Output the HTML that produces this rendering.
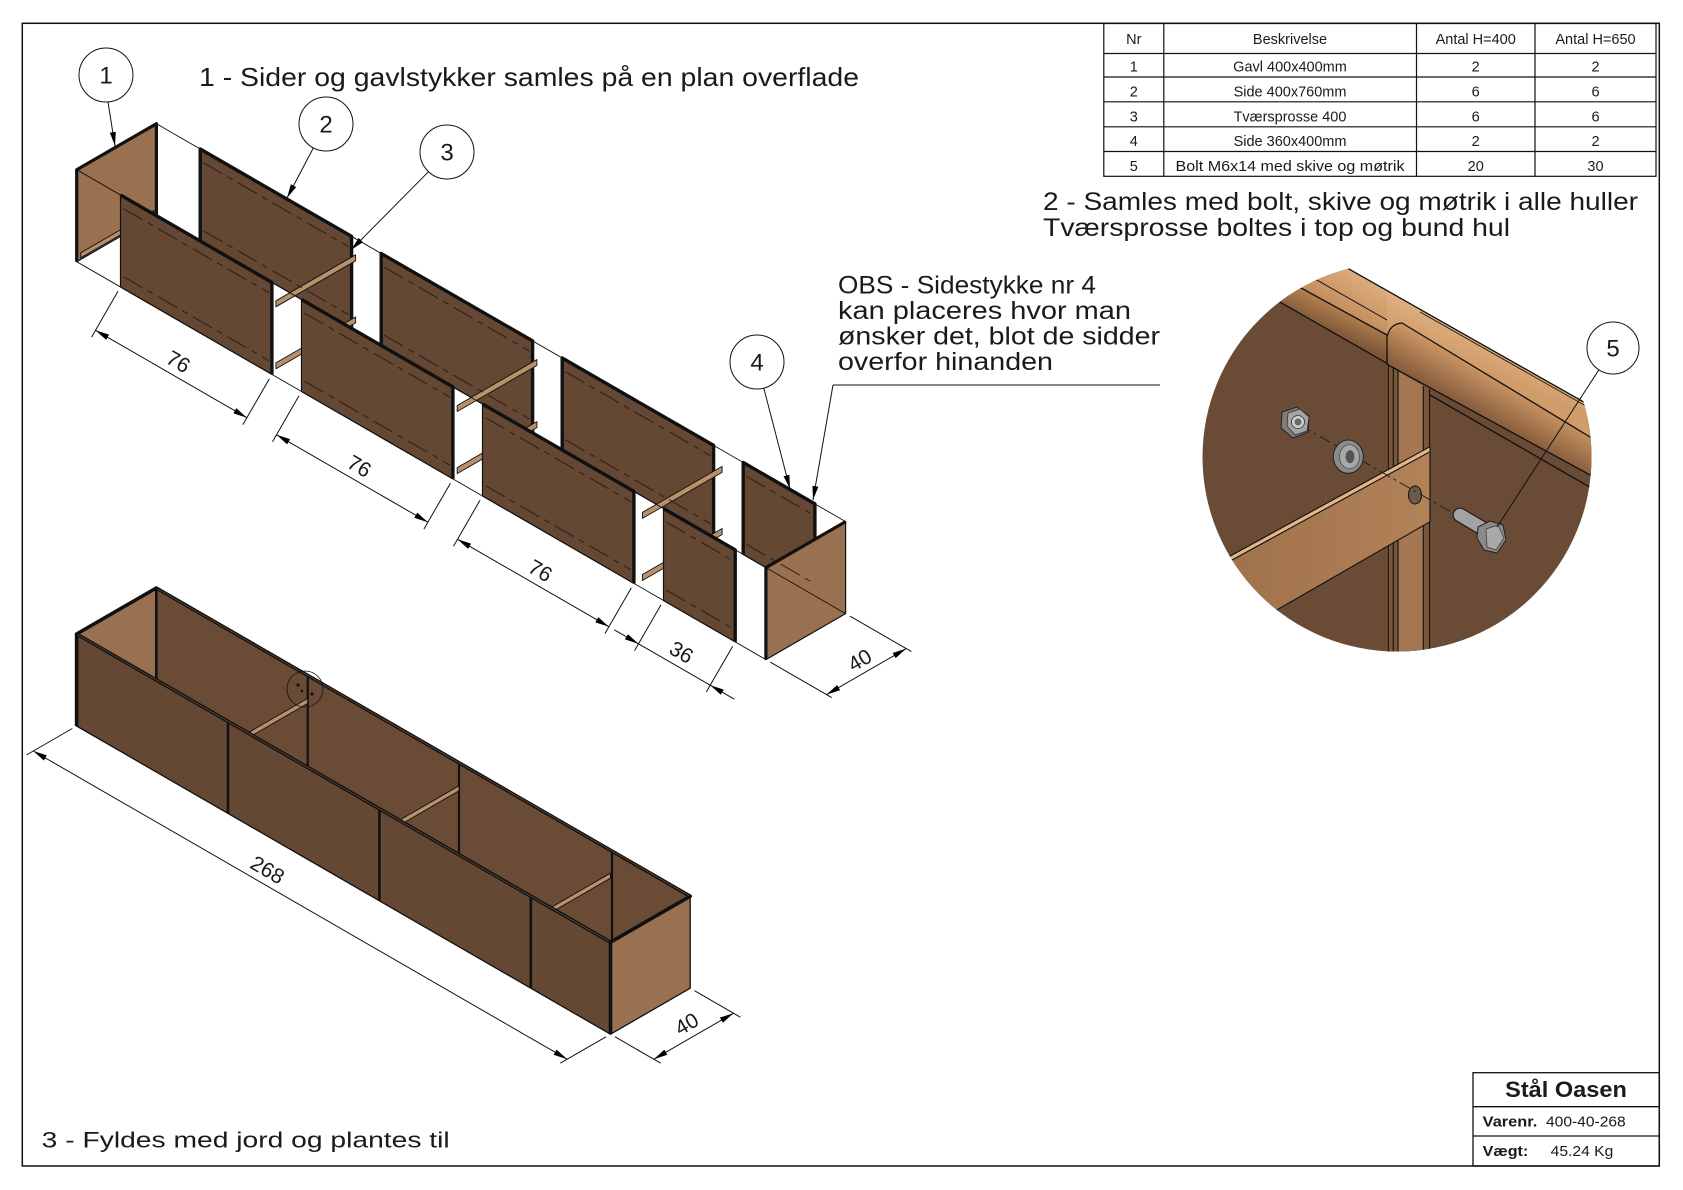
<!DOCTYPE html>
<html><head><meta charset="utf-8"><style>
html,body{margin:0;padding:0;background:#fff;}
svg{display:block;}
text{font-family:"Liberation Sans",Arial,sans-serif;fill:#1a1a1a;}
</style></head><body>
<svg width="1683" height="1190" viewBox="0 0 1683 1190" xmlns="http://www.w3.org/2000/svg">
<defs>
<marker id="ar" viewBox="0 0 14 6" refX="14" refY="3" markerWidth="14" markerHeight="6" markerUnits="userSpaceOnUse" orient="auto-start-reverse"><path d="M0,0 L14,3 L0,6 z" fill="#000"/></marker>
<clipPath id="dc"><circle cx="1397" cy="457" r="194.5"/></clipPath>
<linearGradient id="tanL" gradientUnits="userSpaceOnUse" x1="1320" y1="255" x2="1300" y2="290"><stop offset="0" stop-color="#dcab7b"/><stop offset="1" stop-color="#c28c5c"/></linearGradient>
<linearGradient id="stripL" gradientUnits="userSpaceOnUse" x1="1330" y1="300" x2="1318" y2="326"><stop offset="0" stop-color="#b9834f"/><stop offset="1" stop-color="#7f5839"/></linearGradient>
<linearGradient id="tanR" gradientUnits="userSpaceOnUse" x1="1500" y1="345" x2="1488" y2="372"><stop offset="0" stop-color="#deae7e"/><stop offset="1" stop-color="#d09c6a"/></linearGradient>
<linearGradient id="faceR" gradientUnits="userSpaceOnUse" x1="1450" y1="353" x2="1430" y2="388"><stop offset="0" stop-color="#c99463"/><stop offset="1" stop-color="#855b3c"/></linearGradient>
<linearGradient id="brc" x1="0" y1="0" x2="1" y2="0"><stop offset="0" stop-color="#9c6f48"/><stop offset="1" stop-color="#b28258"/></linearGradient>
</defs>
<rect width="1683" height="1190" fill="#fff"/>
<!-- frame -->
<rect x="22.3" y="23.3" width="1637" height="1142.7" fill="none" stroke="#111" stroke-width="1.5"/>

<!-- table -->
<g stroke="#111" stroke-width="1.2" fill="none">
<rect x="1103.8" y="23.5" width="552.2" height="152.8"/>
<line x1="1163.8" y1="23.5" x2="1163.8" y2="176.3"/>
<line x1="1416.5" y1="23.5" x2="1416.5" y2="176.3"/>
<line x1="1535" y1="23.5" x2="1535" y2="176.3"/>
<line x1="1103.8" y1="53.5" x2="1656" y2="53.5"/>
<line x1="1103.8" y1="77" x2="1656" y2="77"/>
<line x1="1103.8" y1="101.8" x2="1656" y2="101.8"/>
<line x1="1103.8" y1="126.8" x2="1656" y2="126.8"/>
<line x1="1103.8" y1="151.5" x2="1656" y2="151.5"/>
</g>
<g font-size="14.5" text-anchor="middle">
<text x="1133.8" y="44">Nr</text><text x="1290" y="44">Beskrivelse</text><text x="1475.7" y="44">Antal H=400</text><text x="1595.5" y="44">Antal H=650</text>
<text x="1133.8" y="71.5">1</text><text x="1290" y="71.5">Gavl 400x400mm</text><text x="1475.7" y="71.5">2</text><text x="1595.5" y="71.5">2</text>
<text x="1133.8" y="96.3">2</text><text x="1290" y="96.3">Side 400x760mm</text><text x="1475.7" y="96.3">6</text><text x="1595.5" y="96.3">6</text>
<text x="1133.8" y="121.3">3</text><text x="1290" y="121.3">Tværsprosse 400</text><text x="1475.7" y="121.3">6</text><text x="1595.5" y="121.3">6</text>
<text x="1133.8" y="146">4</text><text x="1290" y="146">Side 360x400mm</text><text x="1475.7" y="146">2</text><text x="1595.5" y="146">2</text>
<text x="1133.8" y="170.8">5</text><text x="1290" y="170.8" textLength="229" lengthAdjust="spacingAndGlyphs">Bolt M6x14 med skive og møtrik</text><text x="1475.7" y="170.8">20</text><text x="1595.5" y="170.8">30</text>
</g>

<!-- headings -->
<text x="199" y="86" font-size="26" textLength="660" lengthAdjust="spacingAndGlyphs">1 - Sider og gavlstykker samles på en plan overflade</text>
<text x="1043" y="210" font-size="25" textLength="595" lengthAdjust="spacingAndGlyphs">2 - Samles med bolt, skive og møtrik i alle huller</text>
<text x="1043" y="236" font-size="25" textLength="467" lengthAdjust="spacingAndGlyphs">Tværsprosse boltes i top og bund hul</text>
<g font-size="25">
<text x="838" y="293.3" textLength="258" lengthAdjust="spacingAndGlyphs">OBS - Sidestykke nr 4</text>
<text x="838" y="319" textLength="293" lengthAdjust="spacingAndGlyphs">kan placeres hvor man</text>
<text x="838" y="344.5" textLength="322" lengthAdjust="spacingAndGlyphs">ønsker det, blot de sidder</text>
<text x="838" y="370" textLength="215" lengthAdjust="spacingAndGlyphs">overfor hinanden</text>
</g>
<text x="41.7" y="1147.5" font-size="22" textLength="408" lengthAdjust="spacingAndGlyphs">3 - Fyldes med jord og plantes til</text>

<!-- ============ EXPLODED VIEW ============ -->
<g stroke="#111" stroke-linejoin="round">
<!-- left gable -->
<polygon points="76.7,169.7 156.4,123.7 156.4,215.7 76.7,261.7" fill="#9a7150" stroke-width="1.2"/>
<polyline points="76.7,261.7 76.7,169.7 156.4,123.7 156.4,215.7" fill="none" stroke-width="3.2"/>
<polygon points="80.7,252.8 154,210.5 154,215.5 80.7,257.8" fill="#b8916a" stroke-width="0.9"/>
<!-- back panels -->
<polygon points="200.2,149 351.6,236.4 351.6,328.4 200.2,241" fill="#644833" stroke-width="1.2"/>
<polygon points="381.2,253.5 532.6,340.9 532.6,432.9 381.2,345.5" fill="#644833" stroke-width="1.2"/>
<polygon points="562.2,358 713.6,445.4 713.6,537.4 562.2,450" fill="#644833" stroke-width="1.2"/>
<polygon points="743.2,462.5 814.9,503.9 814.9,595.9 743.2,554.5" fill="#644833" stroke-width="1.2"/>
<g fill="none" stroke-width="3.4">
<polyline points="200.2,241 200.2,149 351.6,236.4 351.6,328.4"/>
<polyline points="381.2,345.5 381.2,253.5 532.6,340.9 532.6,432.9"/>
<polyline points="562.2,450 562.2,358 713.6,445.4 713.6,537.4"/>
<polyline points="743.2,554.5 743.2,462.5 814.9,503.9 814.9,595.9"/>
</g>
<!-- braces -->
<g fill="#b8916a" stroke-width="0.9">
<polygon points="275.9,300.8 355.6,254.8 355.6,260.8 275.9,306.8"/>
<polygon points="457.2,405.5 536.9,359.5 536.9,365.5 457.2,411.5"/>
<polygon points="642.4,512.4 722.1,466.4 722.1,472.4 642.4,518.4"/>
<polygon points="275.9,362.9 355.6,316.9 355.6,322.9 275.9,368.9"/>
<polygon points="457.2,467.6 536.9,421.6 536.9,427.6 457.2,473.6"/>
<polygon points="642.4,574.5 722.1,528.5 722.1,534.5 642.4,580.5"/>
</g>
<!-- front panels -->
<polygon points="120.5,195 271.9,282.4 271.9,374.4 120.5,287" fill="#644833" stroke-width="1.2"/>
<polygon points="301.5,299.5 452.9,386.9 452.9,478.9 301.5,391.5" fill="#644833" stroke-width="1.2"/>
<polygon points="482.5,404 633.9,491.4 633.9,583.4 482.5,496" fill="#644833" stroke-width="1.2"/>
<polygon points="663.5,508.5 735.2,549.9 735.2,641.9 663.5,600.5" fill="#644833" stroke-width="1.2"/>
<g fill="none" stroke-width="3.4">
<polyline points="120.5,195 271.9,282.4 271.9,374.4"/>
<polyline points="301.5,299.5 452.9,386.9 452.9,478.9"/>
<polyline points="482.5,404 633.9,491.4 633.9,583.4"/>
<polyline points="663.5,508.5 735.2,549.9 735.2,641.9"/>
</g>
<!-- right gable -->
<polygon points="765.9,567.6 845.6,521.6 845.6,613.6 765.9,659.6" fill="#9a7150" stroke-width="1.2"/>
<polyline points="765.9,659.6 765.9,567.6 845.6,521.6" fill="none" stroke-width="3.2"/>
</g>
<!-- hidden dashed lines -->
<g stroke="#2b1e15" stroke-width="1" stroke-dasharray="22 6 6 6" fill="none">
<line x1="123.5" y1="208.7" x2="268.9" y2="292.7"/><line x1="123.5" y1="276.7" x2="268.9" y2="360.7"/>
<line x1="304.5" y1="313.2" x2="449.9" y2="397.2"/><line x1="304.5" y1="381.2" x2="449.9" y2="465.2"/>
<line x1="485.5" y1="417.7" x2="630.9" y2="501.7"/><line x1="485.5" y1="485.7" x2="630.9" y2="569.7"/>
<line x1="666.5" y1="522.2" x2="732.2" y2="560.2"/><line x1="666.5" y1="590.2" x2="732.2" y2="628.2"/>
<line x1="203.2" y1="162.7" x2="348.6" y2="246.7"/><line x1="203.2" y1="230.7" x2="348.6" y2="314.7"/>
<line x1="384.2" y1="267.2" x2="529.6" y2="351.2"/><line x1="384.2" y1="335.2" x2="529.6" y2="419.2"/>
<line x1="565.2" y1="371.7" x2="710.6" y2="455.7"/><line x1="565.2" y1="439.7" x2="710.6" y2="523.7"/>
<line x1="746.2" y1="476.2" x2="811.9" y2="514.2"/><line x1="746.2" y1="544.2" x2="811.9" y2="582.2"/>
</g>
<!-- explode lines -->
<g stroke="#111" stroke-width="0.9">
<line x1="156.4" y1="123.7" x2="845.6" y2="521.6"/>
<line x1="76.7" y1="169.7" x2="845.6" y2="613.6"/>
<line x1="76.7" y1="261.7" x2="765.9" y2="659.6"/>
</g>

<!-- exploded dims -->
<g stroke="#111" stroke-width="1">
<line x1="118" y1="291.3" x2="91.5" y2="337.2"/><line x1="269.4" y1="378.7" x2="242.9" y2="424.6"/>
<line x1="95.5" y1="330.3" x2="246.9" y2="417.7" marker-start="url(#ar)" marker-end="url(#ar)"/>
<line x1="299" y1="395.8" x2="272.5" y2="441.7"/><line x1="450.4" y1="483.2" x2="423.9" y2="529.1"/>
<line x1="276.5" y1="434.8" x2="427.9" y2="522.2" marker-start="url(#ar)" marker-end="url(#ar)"/>
<line x1="480" y1="500.3" x2="453.5" y2="546.2"/><line x1="631.4" y1="587.7" x2="604.9" y2="633.6"/>
<line x1="457.5" y1="539.3" x2="608.9" y2="626.7" marker-start="url(#ar)" marker-end="url(#ar)"/>
<line x1="661" y1="604.8" x2="634.5" y2="650.7"/><line x1="732.7" y1="646.2" x2="706.2" y2="692.1"/>
<line x1="614.3" y1="629.8" x2="638.5" y2="643.8" marker-end="url(#ar)"/>
<line x1="734.4" y1="699.2" x2="710.2" y2="685.2" marker-end="url(#ar)"/>
<line x1="638.5" y1="643.8" x2="710.2" y2="685.2"/>
<line x1="770.2" y1="662.1" x2="831.7" y2="697.6"/><line x1="849.9" y1="616.1" x2="911.4" y2="651.6"/>
<line x1="826.5" y1="694.6" x2="906.2" y2="648.6" marker-start="url(#ar)" marker-end="url(#ar)"/>
</g>
<g font-size="21" text-anchor="middle">
<text transform="translate(171.2,374) rotate(30)" y="-7">76</text>
<text transform="translate(352.2,478.5) rotate(30)" y="-7">76</text>
<text transform="translate(533.2,583) rotate(30)" y="-7">76</text>
<text transform="translate(674.4,664.5) rotate(30)" y="-7">36</text>
<text transform="translate(866.4,671.6) rotate(-30)" y="-6">40</text>
</g>

<!-- balloons -->
<g fill="none" stroke="#111" stroke-width="1">
<circle cx="106" cy="75" r="27"/>
<circle cx="326" cy="124" r="27"/>
<circle cx="447" cy="152" r="27"/>
<circle cx="757" cy="362" r="27"/>
<line x1="108" y1="102" x2="115" y2="146" marker-end="url(#ar)"/>
<line x1="313.4" y1="147.9" x2="287" y2="198" marker-end="url(#ar)"/>
<line x1="428.5" y1="171.7" x2="351" y2="250" marker-end="url(#ar)"/>
<line x1="763.8" y1="388.1" x2="790" y2="489" marker-end="url(#ar)"/>
<line x1="833" y1="385" x2="1160" y2="385"/>
<line x1="833" y1="385" x2="813" y2="500" marker-end="url(#ar)"/>
</g>
<g font-size="24" text-anchor="middle">
<text x="106" y="83.5">1</text><text x="326" y="132.5">2</text><text x="447" y="160.5">3</text><text x="757" y="370.5">4</text>
</g>

<!-- ============ ASSEMBLED BOX ============ -->
<g stroke="#111" stroke-linejoin="round">
<polygon points="76.6,634 610.5,942.2 690.2,896.2 156.3,588" fill="#6a4c36" stroke="none"/>
<polygon points="76.6,634 156.3,588 156.3,680" fill="#9a7150" stroke="none"/>
<g stroke-width="2.2">
<line x1="307.7" y1="675.4" x2="307.7" y2="767.4"/>
<line x1="459" y1="762.8" x2="459" y2="854.8"/>
<line x1="612" y1="852" x2="612" y2="942.2"/>
</g>
<g fill="#b8916a" stroke-width="0.9">
<polygon points="307.7,698.4 228,744.4 228,749.4 307.7,703.4"/>
<polygon points="459,785.8 379.4,831.8 379.4,836.8 459,790.8"/>
<polygon points="610.4,873.2 530.8,919.2 530.8,924.2 610.4,878.2"/>
</g>
<polygon points="76.6,726 610.5,1034.2 610.5,942.2 76.6,634" fill="#644833" stroke-width="1.3"/>
<polygon points="610.5,1034.2 690.2,988.2 690.2,896.2 610.5,942.2" fill="#9a7150" stroke-width="1.3"/>
<g stroke-width="3.6" fill="none">
<polygon points="76.6,634 610.5,942.2 690.2,896.2 156.3,588"/>
<line x1="76.6" y1="634" x2="76.6" y2="726"/>
<line x1="610.5" y1="942.2" x2="610.5" y2="1034.2"/>
</g>
<g stroke-width="2.6">
<line x1="156.3" y1="588" x2="156.3" y2="680"/>
<line x1="228" y1="721.4" x2="228" y2="813.4"/>
<line x1="379.4" y1="808.8" x2="379.4" y2="900.8"/>
<line x1="530.8" y1="896.2" x2="530.8" y2="988.2"/>
</g>
<g stroke="#6a4c36" stroke-width="0.8" fill="none">
<line x1="78" y1="634.8" x2="609" y2="941.4"/>
<line x1="157.5" y1="588.8" x2="689" y2="895.4"/>
</g>
</g>
<circle cx="305" cy="689" r="18" fill="none" stroke="#111" stroke-width="0.8"/>
<g fill="#111"><circle cx="298" cy="685" r="1.6"/><circle cx="302" cy="691" r="1.3"/><circle cx="312" cy="694" r="1.6"/></g>

<!-- box dims -->
<g stroke="#111" stroke-width="1">
<line x1="72.3" y1="728.5" x2="26.4" y2="755"/><line x1="606.2" y1="1036.7" x2="560.3" y2="1063.2"/>
<line x1="33.3" y1="751" x2="567.2" y2="1059.2" marker-start="url(#ar)" marker-end="url(#ar)"/>
<line x1="614.8" y1="1036.7" x2="660.7" y2="1063.2"/><line x1="694.5" y1="990.7" x2="740.4" y2="1017.2"/>
<line x1="653.8" y1="1059.2" x2="733.5" y2="1013.2" marker-start="url(#ar)" marker-end="url(#ar)"/>
</g>
<g font-size="21" text-anchor="middle">
<text transform="translate(260.4,882.1) rotate(30)" y="-7">268</text>
<text transform="translate(693.7,1036.2) rotate(-30)" y="-7">40</text>
</g>

<!-- ============ DETAIL CIRCLE ============ -->
<g clip-path="url(#dc)">
<polygon points="1190,179 1600,411.2 1600,670 1190,670" fill="#6a4c36"/>
<!-- left piece of rail -->
<polygon points="1190,179 1387,290.5 1387,335 1190,227.3" fill="url(#tanL)"/>
<polygon points="1190,227.3 1387,335 1387,363.3 1190,250.7" fill="url(#stripL)"/>
<!-- right piece of rail -->
<polygon points="1387,290.5 1600,411.2 1600,443 1400,323.3 1387,335" fill="url(#tanR)"/>
<polygon points="1387,335 1400,323.3 1600,443 1600,480.4 1388.3,365" fill="url(#faceR)"/>
<!-- post -->
<polygon points="1386.7,364 1430,387 1430,660 1386.7,660" fill="#7a5739"/>
<polygon points="1398,371.3 1423.3,385.9 1423.3,660 1398,660" fill="#a47752"/>
<g stroke="#111" stroke-width="1.1">
<line x1="1388.3" y1="364" x2="1388.3" y2="660"/>
<line x1="1393.3" y1="367" x2="1393.3" y2="660"/>
<line x1="1398" y1="371" x2="1398" y2="660"/>
<line x1="1423.3" y1="386" x2="1423.3" y2="660"/>
<line x1="1429.5" y1="389" x2="1429.5" y2="660"/>
</g>
<!-- rail lines -->
<g stroke="#111" stroke-width="1.3" fill="none">
<line x1="1190" y1="179" x2="1600" y2="411.2"/>
<line x1="1420" y1="312" x2="1600" y2="414" stroke-width="0.8"/>
<line x1="1190" y1="207.7" x2="1387" y2="320" stroke-width="1"/>
<line x1="1190" y1="227.3" x2="1387" y2="335"/>
<line x1="1190" y1="250.7" x2="1387" y2="363.3"/>
<path d="M1387,365 L1387,337 Q1390,324 1402,323 L1600,443"/>
<line x1="1388.3" y1="365" x2="1600" y2="480.4"/>
<line x1="1430" y1="395" x2="1600" y2="493"/>
</g>
<!-- brace -->
<polygon points="1190,578 1430,446.7 1430,521.7 1190,660" fill="url(#brc)"/>
<polygon points="1190,578 1430,446.7 1430,451.7 1190,583" fill="#e0b68a"/>
<g stroke="#111" stroke-width="1.1" fill="none">
<line x1="1190" y1="578" x2="1430" y2="446.7"/>
<line x1="1190" y1="583" x2="1430" y2="451.7"/>
<line x1="1190" y1="660" x2="1430" y2="521.7"/>
<line x1="1430" y1="446.7" x2="1430" y2="521.7"/>
</g>
<ellipse cx="1415" cy="495" rx="6.5" ry="9" fill="#6d5a48" stroke="#111" stroke-width="1"/>
<!-- center line -->
<line x1="1300" y1="425" x2="1458" y2="516" stroke="#222" stroke-width="1" stroke-dasharray="12 4 3 4"/>
<!-- nut -->
<polygon points="1282,412 1297,407 1309,416 1308,432 1293,438 1281,428" fill="#7d7d7d" stroke="#222" stroke-width="1"/>
<polygon points="1288,413 1300,409 1309,417 1307,431 1295,435 1287,426" fill="#a3a3a3" stroke="#333" stroke-width="0.8"/>
<circle cx="1298" cy="422" r="6.5" fill="#cfcfcf" stroke="#333" stroke-width="0.8"/>
<circle cx="1298" cy="422" r="3.5" fill="#6a6a6a"/>
<!-- washer -->
<ellipse cx="1348.3" cy="456.7" rx="15" ry="16.7" fill="#8a8a8a" stroke="#222" stroke-width="1"/>
<ellipse cx="1349.5" cy="456.7" rx="10" ry="12" fill="#a8a8a8" stroke="#444" stroke-width="0.7"/>
<ellipse cx="1350" cy="456.7" rx="4.5" ry="6.5" fill="#555"/>
<!-- bolt -->
<line x1="1460" y1="515" x2="1482" y2="528" stroke="#222" stroke-width="15" stroke-linecap="round"/>
<line x1="1460" y1="515" x2="1482" y2="528" stroke="#a3a3a3" stroke-width="12.5" stroke-linecap="round"/>
<polygon points="1478,527 1490,521 1503,525 1506,540 1497,553 1484,550 1477,538" fill="#8a8a8a" stroke="#222" stroke-width="1"/>
<polygon points="1486,529 1498,525 1504,538 1496,550 1487,547" fill="#a9a9a9" stroke="#333" stroke-width="0.7"/>
</g>
<!-- balloon 5 -->
<circle cx="1613" cy="348" r="26" fill="#fff" stroke="#111" stroke-width="1"/>
<text x="1613" y="356.5" font-size="24" text-anchor="middle">5</text>
<line x1="1598.9" y1="369.8" x2="1497" y2="527" stroke="#111" stroke-width="1"/>

<!-- title block -->
<g stroke="#111" stroke-width="1.3" fill="none">
<rect x="1473" y="1072.7" width="186.3" height="93.3"/>
<line x1="1473" y1="1106.7" x2="1659.3" y2="1106.7"/>
<line x1="1473" y1="1136" x2="1659.3" y2="1136"/>
</g>
<text x="1566" y="1097" font-size="22" font-weight="bold" text-anchor="middle" textLength="121.7" lengthAdjust="spacingAndGlyphs">Stål Oasen</text>
<text x="1482.7" y="1126.5" font-size="15" font-weight="bold" textLength="54.6" lengthAdjust="spacingAndGlyphs">Varenr.</text>
<text x="1546" y="1126.5" font-size="15" textLength="79.7" lengthAdjust="spacingAndGlyphs">400-40-268</text>
<text x="1482.7" y="1156" font-size="15" font-weight="bold" textLength="45.6" lengthAdjust="spacingAndGlyphs">Vægt:</text>
<text x="1550.7" y="1156" font-size="15" textLength="62.6" lengthAdjust="spacingAndGlyphs">45.24 Kg</text>
</svg>
</body></html>
